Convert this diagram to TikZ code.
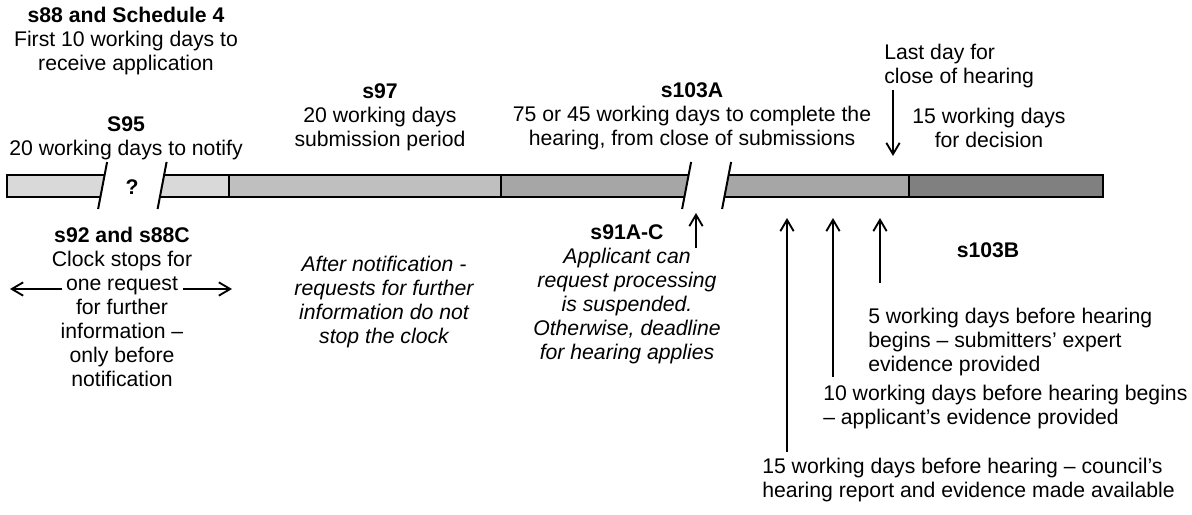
\documentclass[tikz,border=0pt]{standalone}
\usepackage{fontspec}
\setmainfont{Liberation Sans}
\usetikzlibrary{arrows.meta}
\definecolor{barA}{HTML}{D9D9D9}
\definecolor{barB}{HTML}{BFBFBF}
\definecolor{barC}{HTML}{A6A6A6}
\definecolor{barD}{HTML}{808080}
\begin{document}
\begin{tikzpicture}[
  x=0.75pt, y=-0.75pt,
  lbl/.style={inner sep=0pt, anchor=north, align=center, font=\fontsize{15.9pt}{18pt}\selectfont},
  lblleft/.style={lbl, anchor=north west, align=left},
  note/.style={lbl, font=\fontsize{15.9pt}{18pt}\selectfont\itshape},
  edge/.style={line width=1.5pt, line join=miter},
  arr/.style={-{Straight Barb[length=8.5pt, width=10pt]}, line width=1.4pt}
]
\useasboundingbox (0,0) rectangle (1192,514);
\fill[barA] (7,175) -- (104.6,175) -- (100.4,197) -- (7,197) -- cycle;
\fill[barA] (164.1,175) -- (229,175) -- (229,197) -- (159.9,197) -- cycle;
\fill[barB] (229,175) rectangle (501,197);
\fill[barC] (501,175) -- (688.6,175) -- (684.4,197) -- (501,197) -- cycle;
\fill[barC] (728.6,175) -- (909,175) -- (909,197) -- (724.4,197) -- cycle;
\fill[barD] (909,175) rectangle (1103,197);
\draw[edge] (104.6,175) -- (7,175) -- (7,197) -- (100.4,197);
\draw[edge] (164.1,175) -- (229,175) -- (229,197) -- (159.9,197);
\draw[edge] (229,175) -- (501,175) -- (501,197) -- (229,197);
\draw[edge] (688.6,175) -- (501,175) (501,197) -- (684.4,197);
\draw[edge] (728.6,175) -- (909,175) -- (909,197) -- (724.4,197);
\draw[edge] (909,175) rectangle (1103,197);
\foreach \xc in {102.5,162,686.5,726.5}
  \draw[edge] (\xc-4.4,209) -- (\xc+4.6,162);
\node[lbl, anchor=center, font=\fontsize{15.9pt}{18pt}\selectfont\bfseries] (qmark) at (132,187) {?};

\node[lbl] (s88) at (126,7) {\textbf{s88 and Schedule 4}\\First 10 working days to\\receive application};
\node[lbl] (s95) at (126,116) {\textbf{S95}\\20 working days to notify};
\node[lbl] (s97) at (380,83) {\textbf{s97}\\20 working days\\submission period};
\node[lbl] (s103a) at (692,82) {\textbf{s103A}\\75 or 45 working days to complete the\\hearing, from close of submissions};
\node[lblleft] (lastday) at (884,44) {Last day for\\close of hearing};
\node[lbl] (decision) at (989,108) {15 working days\\for decision};

\node[lbl] (s92) at (122,227) {\textbf{s92 and s88C}\\Clock stops for\\one request\\for further\\information –\\only before\\notification};
\node[note] (after) at (384,256) {After notification -\\requests for further\\information do not\\stop the clock};
\node[lbl] (s91) at (627,224) {\textbf{s91A-C}\\\textit{Applicant can}\\\textit{request processing}\\\textit{is suspended.}\\\textit{Otherwise, deadline}\\\textit{for hearing applies}};
\node[lbl] (s103b) at (988,242) {\textbf{s103B}};
\node[lblleft] (five) at (868,308) {5 working days before hearing\\begins – submitters’ expert\\evidence provided};
\node[lblleft] (ten) at (823,385) {10 working days before hearing begins\\– applicant’s evidence provided};
\node[lblleft] (fifteen) at (762,458) {15 working days before hearing – council’s\\hearing report and evidence made available};

\coordinate (closeA) at (893,90);
\coordinate (closeB) at (893,156);
\coordinate (l1) at (62,289);
\coordinate (l2) at (10,289);
\coordinate (r1) at (183,289);
\coordinate (r2) at (232,289);
\coordinate (susp) at (696,248);
\coordinate (suspTip) at (696,213);
\coordinate (fifteenA) at (787,452);
\coordinate (fifteenB) at (787,218);
\coordinate (tenA) at (833,377);
\coordinate (tenB) at (833,218);
\coordinate (fiveA) at (880,283);
\coordinate (fiveB) at (880,218);
\draw[arr] (closeA) -- (closeB);
\draw[arr] (l1) -- (l2);
\draw[arr] (r1) -- (r2);
\draw[arr] (susp) -- (suspTip);
\draw[arr] (fifteenA) -- (fifteenB);
\draw[arr] (tenA) -- (tenB);
\draw[arr] (fiveA) -- (fiveB);
\end{tikzpicture}
\end{document}
